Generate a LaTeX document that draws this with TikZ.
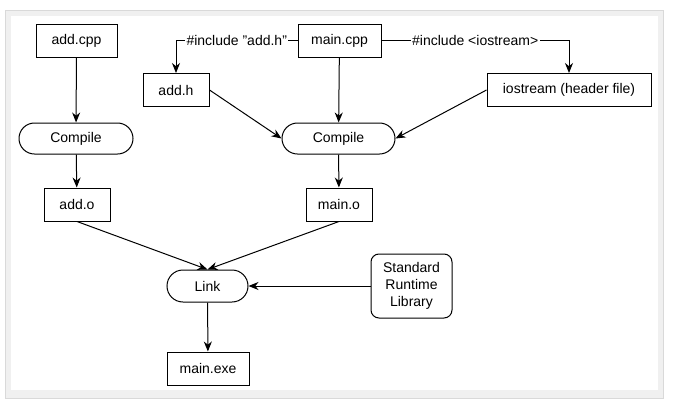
\documentclass[tikz,border=0pt]{standalone}
\usepackage{fontspec}
\setmainfont{Liberation Sans}
\usetikzlibrary{arrows.meta}
\begin{document}
\begin{tikzpicture}[x=0.75pt,y=-0.75pt,
  every node/.style={font=\fontsize{10.5pt}{12.5pt}\selectfont, inner sep=0pt},
  filebox/.style={draw, line width=0.75pt, minimum height=24.75pt, align=center},
  procbox/.style={draw, line width=0.75pt, minimum height=23.25pt, rounded corners=11.6pt},
  libbox/.style={draw, line width=0.75pt, minimum width=60.75pt, minimum height=48pt, rounded corners=6pt, align=center},
  conn/.style={line width=0.75pt, -{Stealth[length=7.5pt,width=6pt,inset=2.4pt]}},
  inclabel/.style={fill=white, inner xsep=1pt, inner ysep=1pt}]
  % frame
  \useasboundingbox (0,0) rectangle (676,411);
  \fill[black!6] (5,10) rectangle (664,399);
  \draw[black!15, line width=0.75pt] (5.5,10.5) rectangle (663.5,398.5);
  \fill[white] (11,16) rectangle (658,390);
  % nodes
  \node[filebox, minimum width=60.75pt] (addcpp) at (76.5,40.5) {add.cpp};
  \node[filebox, minimum width=62.25pt] (maincpp) at (339.5,40.5) {main.cpp};
  \node[filebox, minimum width=49.5pt] (addh) at (176,90) {add.h};
  \node[filebox, minimum width=123pt] (iostream) at (569,90) {iostream (header file)};
  \node[procbox, minimum width=85.5pt] (comp1) at (76,138.5) {Compile};
  \node[procbox, minimum width=84.75pt] (comp2) at (338.5,138.5) {Compile};
  \node[filebox, minimum width=49.5pt] (addo) at (77,204.5) {add.o};
  \node[filebox, minimum width=49.5pt] (maino) at (339,204.5) {main.o};
  \node[procbox, minimum width=60.75pt, minimum height=24pt, rounded corners=12pt] (link) at (207.5,286) {Link};
  \node[libbox] (lib) at (411.5,286) {Standard\\Runtime\\Library};
  \node[filebox, minimum width=61.5pt] (mainexe) at (208,368.5) {main.exe};
  % connectors
  \draw[conn] (addcpp) -- (comp1);
  \draw[conn] (comp1) -- (addo);
  \draw[conn] (maincpp) -- (comp2);
  \draw[conn] (comp2) -- (maino);
  \draw[conn] (addh.east) -- (comp2.west);
  \draw[conn] (iostream.west) -- (comp2.east);
  \draw[conn] (addo.south) -- (link.north);
  \draw[conn] (maino.south) -- (link.north);
  \draw[conn] (lib.west) -- (link.east);
  \draw[conn] (link) -- (mainexe);
  \draw[conn] (maincpp.west) -- node[inclabel, pos=0.5]{\#include "add.h"} (addh.north |- maincpp.west) -- (addh.north);
  \draw[conn] (maincpp.east) -- node[inclabel, pos=0.5]{\#include <iostream>} (iostream.north |- maincpp.east) -- (iostream.north);
\end{tikzpicture}
\end{document}
